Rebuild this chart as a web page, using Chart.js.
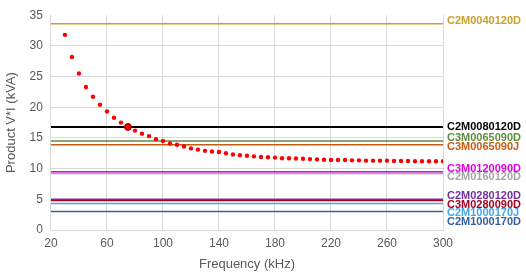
<!DOCTYPE html>
<html lang="en">
<head>
  <meta charset="UTF-8">
  <title>Product V*I vs Frequency</title>
  <script src="https://cdn.jsdelivr.net/npm/chart.js"></script>
  <style>
    body { margin: 0; background: #fff; }
    #wrap { width: 526px; height: 272px; }
  </style>
</head>
<body>
  <div id="wrap"><canvas id="myChart"></canvas></div>
  <script>
    // red dotted curve
    const freqKHz = [30, 35, 40, 45, 50, 55, 60, 65, 70, 75, 80, 85, 90, 95, 100,
      105, 110, 115, 120, 125, 130, 135, 140, 145, 150, 155, 160, 165, 170, 175, 180,
      185, 190, 195, 200, 205, 210, 215, 220, 225, 230, 235, 240, 245, 250, 255, 260,
      265, 270, 275, 280, 285, 290, 295, 300];
    const productKVA = [31.8, 28.2, 25.5, 23.3, 21.7, 20.4, 19.3, 18.3, 17.5, 16.8, 16.2, 15.7, 15.3, 14.8, 14.5,
      14.1, 13.9, 13.6, 13.3, 13.1, 12.9, 12.8, 12.7, 12.5, 12.3, 12.2, 12.1, 12.0, 11.9, 11.85, 11.8,
      11.7, 11.7, 11.65, 11.6, 11.55, 11.5, 11.45, 11.4, 11.4, 11.4, 11.35, 11.35, 11.3, 11.3, 11.3, 11.3,
      11.25, 11.25, 11.25, 11.2, 11.2, 11.2, 11.2, 11.2];

    // highlighted point
    const markFreq = [75];
    const markKVA = [16.8];

    // device limits (horizontal lines)
    const devices = ['C2M0040120D', 'C2M0080120D', 'C3M0065090D', 'C3M0065090J', 'C3M0120090D',
      'C2M0160120D', 'C2M0280120D', 'C3M0280090D', 'C2M1000170J', 'C2M1000170D'];
    const deviceKVA = [33.6, 16.8, 14.5, 13.9, 9.5, 9.2, 5.0, 4.8, 4.3, 3.0];
    const deviceColors = ['#C9A02A', '#000000', '#5E8C3E', '#C55A11', '#E000E0',
      '#A5A5A5', '#7030A0', '#A8001E', '#41A7F0', '#3560A0'];

    const xTicks = [20, 60, 100, 140, 180, 220, 260, 300];
    const yTicks = [0, 5, 10, 15, 20, 25, 30, 35];

    const xMin = xTicks[0], xMax = xTicks[xTicks.length - 1];

    const lineSets = devices.map((name, i) => ({
      type: 'line',
      label: name,
      data: [{ x: xMin, y: deviceKVA[i] }, { x: xMax, y: deviceKVA[i] }],
      borderColor: deviceColors[i],
      borderWidth: name === 'C2M0080120D' ? 2 : 1.5,
      pointRadius: 0,
      order: 3
    }));

    // names at the right end of each line, nudged apart when crowded
    const sideLabels = {
      id: 'sideLabels',
      afterDatasetsDraw(chart) {
        const { ctx, chartArea, scales } = chart;
        const items = devices.map((name, i) => ({
          name, color: deviceColors[i], y: scales.y.getPixelForValue(deviceKVA[i])
        })).sort((a, b) => a.y - b.y);
        const gap = 8.5;
        for (let i = 0; i < items.length; i++) {
          const prev = items[i - 1], next = items[i + 1];
          const crowdedBelow = next && next.y - items[i].y < gap;
          const crowdedAbove = prev && items[i].y - prev.pos < gap;
          if (crowdedAbove) items[i].pos = prev.pos + gap;
          else if (crowdedBelow) items[i].pos = items[i].y - 3;
          else items[i].pos = items[i].y - (i === 0 ? 2.5 : 0);
        }
        ctx.save();
        ctx.font = 'bold 11px "Liberation Sans", Arial, sans-serif';
        ctx.textBaseline = 'middle';
        ctx.textAlign = 'left';
        items.forEach(it => {
          ctx.fillStyle = it.color;
          ctx.fillText(it.name, chartArea.right + 4, it.pos);
        });
        ctx.restore();
      }
    };

    const ctx = document.getElementById('myChart').getContext('2d');
    new Chart(ctx, {
      type: 'scatter',
      data: {
        datasets: [
          {
            label: 'Product V*I',
            data: freqKHz.map((f, i) => ({ x: f, y: productKVA[i] })),
            backgroundColor: '#FF0000',
            borderColor: '#FF0000',
            pointRadius: 2.2,
            pointBorderWidth: 0,
            order: 1
          },
          {
            label: 'Operating point',
            data: markFreq.map((f, i) => ({ x: f, y: markKVA[i] })),
            backgroundColor: '#E00000',
            borderColor: '#A00000',
            pointRadius: 3.5,
            pointBorderWidth: 1,
            order: 0
          },
          ...lineSets
        ]
      },
      options: {
        responsive: true,
        maintainAspectRatio: false,
        animation: false,
        layout: { padding: { top: 0, right: 83, left: 4, bottom: 0 } },
        plugins: {
          legend: { display: false },
          tooltip: { enabled: false }
        },
        scales: {
          x: {
            type: 'linear',
            min: xMin,
            max: xMax,
            afterBuildTicks: axis => { axis.ticks = xTicks.map(v => ({ value: v })); },
            grid: { color: '#D9D9D9', drawTicks: false },
            border: { color: '#D9D9D9' },
            ticks: {
              color: '#595959',
              padding: 6,
              font: { family: '"Liberation Sans", Arial, sans-serif', size: 12 }
            },
            title: {
              display: true,
              text: 'Frequency (kHz)',
              color: '#595959',
              padding: { top: 0, bottom: 0 },
              font: { family: '"Liberation Sans", Arial, sans-serif', size: 13 }
            }
          },
          y: {
            min: yTicks[0],
            max: yTicks[yTicks.length - 1],
            afterBuildTicks: axis => { axis.ticks = yTicks.map(v => ({ value: v })); },
            grid: {
              color: c => (c.tick && c.tick.value === 35 ? 'rgba(0,0,0,0)' : '#D9D9D9'),
              drawTicks: false
            },
            border: { color: '#D9D9D9' },
            ticks: {
              color: '#595959',
              padding: 8,
              font: { family: '"Liberation Sans", Arial, sans-serif', size: 12 }
            },
            title: {
              display: true,
              text: 'Product V*I (kVA)',
              color: '#595959',
              padding: { top: 0, bottom: 2 },
              font: { family: '"Liberation Sans", Arial, sans-serif', size: 13 }
            }
          }
        }
      },
      plugins: [sideLabels]
    });
  </script>
</body>
</html>
